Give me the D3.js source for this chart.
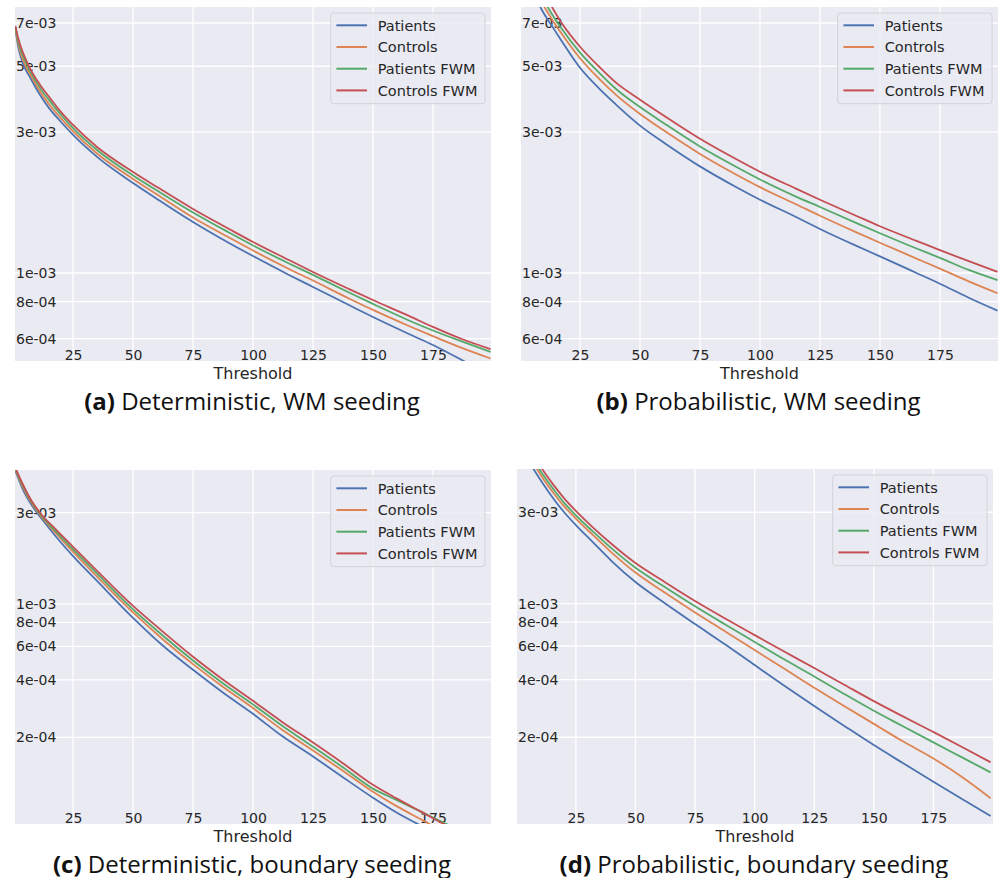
<!DOCTYPE html>
<html>
<head>
<meta charset="utf-8">
<script src="https://cdn.jsdelivr.net/npm/d3@7"></script>
<style>
  html, body { margin: 0; padding: 0; background: #fff; }
  svg { display: block; }
</style>
</head>
<body>
<script>
// series order: Patients, Controls, Patients FWM, Controls FWM
const seriesNames = ["Patients", "Controls", "Patients FWM", "Controls FWM"]
const seriesColors = ["#4C72B0", "#DD8452", "#55A868", "#C44E52"]

const xTicks = [25, 50, 75, 100, 125, 150, 175]
const yTicksWM = [6e-4, 8e-4, 1e-3, 3e-3, 5e-3, 7e-3]
const yTicksBoundary = [2e-4, 4e-4, 6e-4, 8e-4, 1e-3, 3e-3]

// (a) deterministic, WM seeding
const aThreshold = [1, 2, 4, 7, 11, 15, 20, 25, 35, 50, 60, 75, 90, 100, 115, 125, 140, 150, 165, 175, 187, 199]
const aPatients = [6.63e-3, 5.90e-3, 5.13e-3, 4.60e-3, 4.03e-3, 3.61e-3, 3.24e-3, 2.93e-3, 2.47e-3, 2.015e-3, 1.78e-3, 1.487e-3, 1.263e-3, 1.141e-3, 9.85e-4, 8.97e-4, 7.79e-4, 7.10e-4, 6.22e-4, 5.71e-4, 5.08e-4, 4.49e-4]
const aControls = [6.70e-3, 6.03e-3, 5.28e-3, 4.71e-3, 4.14e-3, 3.72e-3, 3.33e-3, 3.01e-3, 2.535e-3, 2.08e-3, 1.843e-3, 1.54e-3, 1.318e-3, 1.191e-3, 1.032e-3, 9.43e-4, 8.20e-4, 7.50e-4, 6.62e-4, 6.12e-4, 5.58e-4, 5.14e-4]
const aPatientsFWM = [6.78e-3, 6.16e-3, 5.45e-3, 4.83e-3, 4.25e-3, 3.84e-3, 3.42e-3, 3.09e-3, 2.605e-3, 2.136e-3, 1.90e-3, 1.602e-3, 1.37e-3, 1.239e-3, 1.077e-3, 9.85e-4, 8.59e-4, 7.86e-4, 6.91e-4, 6.39e-4, 5.87e-4, 5.41e-4]
const aControlsFWM = [6.84e-3, 6.28e-3, 5.59e-3, 4.93e-3, 4.355e-3, 3.94e-3, 3.50e-3, 3.165e-3, 2.667e-3, 2.195e-3, 1.953e-3, 1.646e-3, 1.409e-3, 1.273e-3, 1.106e-3, 1.008e-3, 8.83e-4, 8.10e-4, 7.16e-4, 6.57e-4, 5.98e-4, 5.53e-4]

// (b) probabilistic, WM seeding
const bThreshold = [1, 5, 9, 13, 17, 25, 33, 40, 50, 60, 75, 90, 100, 115, 125, 140, 150, 165, 175, 187, 199]
const bPatients = [1.173e-2, 9.14e-3, 7.78e-3, 6.90e-3, 6.15e-3, 4.94e-3, 4.20e-3, 3.71e-3, 3.15e-3, 2.757e-3, 2.293e-3, 1.953e-3, 1.769e-3, 1.547e-3, 1.409e-3, 1.237e-3, 1.138e-3, 1.002e-3, 9.20e-4, 8.25e-4, 7.46e-4]
const bControls = [1.236e-2, 9.74e-3, 8.26e-3, 7.27e-3, 6.50e-3, 5.32e-3, 4.53e-3, 4.00e-3, 3.447e-3, 3.03e-3, 2.527e-3, 2.154e-3, 1.951e-3, 1.708e-3, 1.561e-3, 1.374e-3, 1.265e-3, 1.121e-3, 1.034e-3, 9.37e-4, 8.54e-4]
const bPatientsFWM = [1.286e-2, 1.022e-2, 8.65e-3, 7.57e-3, 6.76e-3, 5.56e-3, 4.75e-3, 4.19e-3, 3.64e-3, 3.208e-3, 2.677e-3, 2.286e-3, 2.071e-3, 1.813e-3, 1.672e-3, 1.477e-3, 1.363e-3, 1.212e-3, 1.125e-3, 1.024e-3, 9.46e-4]
const bControlsFWM = [1.36e-2, 1.094e-2, 9.22e-3, 8.01e-3, 7.07e-3, 5.82e-3, 4.98e-3, 4.40e-3, 3.854e-3, 3.402e-3, 2.844e-3, 2.429e-3, 2.20e-3, 1.928e-3, 1.769e-3, 1.562e-3, 1.439e-3, 1.286e-3, 1.194e-3, 1.096e-3, 1.008e-3]

// (c) deterministic, boundary seeding
const cThreshold = [1, 4, 8, 12, 18, 25, 35, 50, 62, 75, 87, 100, 112, 125, 137, 150, 160, 170, 180, 190, 199]
const cPatients = [4.96e-3, 3.99e-3, 3.25e-3, 2.78e-3, 2.24e-3, 1.78e-3, 1.32e-3, 8.45e-4, 6.11e-4, 4.52e-4, 3.47e-4, 2.66e-4, 2.04e-4, 1.59e-4, 1.25e-4, 9.68e-5, 8.08e-5, 6.91e-5, 5.91e-5, 5.11e-5, 4.48e-5]
const cControls = [5.04e-3, 4.10e-3, 3.33e-3, 2.84e-3, 2.33e-3, 1.87e-3, 1.39e-3, 9.02e-4, 6.59e-4, 4.84e-4, 3.72e-4, 2.85e-4, 2.20e-4, 1.71e-4, 1.35e-4, 1.04e-4, 8.72e-5, 7.46e-5, 6.37e-5, 5.52e-5, 4.83e-5]
const cPatientsFWM = [5.09e-3, 4.17e-3, 3.37e-3, 2.88e-3, 2.38e-3, 1.93e-3, 1.44e-3, 9.37e-4, 6.90e-4, 5.06e-4, 3.88e-4, 2.98e-4, 2.31e-4, 1.79e-4, 1.41e-4, 1.08e-4, 9.40e-5, 8.18e-5, 7.11e-5, 6.21e-5, 5.44e-5]
const cControlsFWM = [5.14e-3, 4.24e-3, 3.41e-3, 2.92e-3, 2.44e-3, 1.99e-3, 1.49e-3, 9.76e-4, 7.23e-4, 5.29e-4, 4.06e-4, 3.11e-4, 2.42e-4, 1.88e-4, 1.48e-4, 1.13e-4, 9.57e-5, 8.18e-5, 7.00e-5, 6.05e-5, 5.30e-5]

// (d) probabilistic, boundary seeding
const dThreshold = [1, 4, 7, 11, 16, 20, 25, 32, 40, 50, 61, 75, 88, 100, 112, 125, 137, 150, 162, 175, 187, 199]
const dPatients = [7.16e-3, 5.97e-3, 5.11e-3, 4.27e-3, 3.48e-3, 3.01e-3, 2.57e-3, 2.10e-3, 1.668e-3, 1.296e-3, 1.031e-3, 7.81e-4, 6.07e-4, 4.77e-4, 3.75e-4, 2.91e-4, 2.32e-4, 1.82e-4, 1.47e-4, 1.17e-4, 9.51e-5, 7.75e-5]
const dControls = [7.69e-3, 6.42e-3, 5.47e-3, 4.55e-3, 3.73e-3, 3.23e-3, 2.78e-3, 2.29e-3, 1.847e-3, 1.452e-3, 1.169e-3, 8.98e-4, 7.10e-4, 5.71e-4, 4.60e-4, 3.63e-4, 2.94e-4, 2.35e-4, 1.91e-4, 1.55e-4, 1.24e-4, 9.60e-5]
const dPatientsFWM = [8.06e-3, 6.73e-3, 5.71e-3, 4.75e-3, 3.90e-3, 3.37e-3, 2.89e-3, 2.39e-3, 1.941e-3, 1.537e-3, 1.249e-3, 9.67e-4, 7.72e-4, 6.30e-4, 5.14e-4, 4.16e-4, 3.40e-4, 2.75e-4, 2.29e-4, 1.88e-4, 1.57e-4, 1.31e-4]
const dControlsFWM = [8.57e-3, 7.16e-3, 6.05e-3, 5.02e-3, 4.11e-3, 3.56e-3, 3.05e-3, 2.51e-3, 2.047e-3, 1.628e-3, 1.327e-3, 1.031e-3, 8.30e-4, 6.84e-4, 5.65e-4, 4.60e-4, 3.80e-4, 3.09e-4, 2.58e-4, 2.13e-4, 1.78e-4, 1.48e-4]

const captionLabels = ["(a)", "(b)", "(c)", "(d)"]
const captionTexts = [" Deterministic, WM seeding", " Probabilistic, WM seeding", " Deterministic, boundary seeding", " Probabilistic, boundary seeding"]

;(function () {
  'use strict';

  const width = 1006
  const height = 878
  const bg = "#EAEAF2"
  const textColor = "#262626"

  const panels = [
    { left: 15, top: 7, w: 476, h: 354, xDomain: [0.8, 199.2], yDomain: [5.04e-4, 7.93e-3], yTicks: yTicksWM,
      x: aThreshold, series: [aPatients, aControls, aPatientsFWM, aControlsFWM] },
    { left: 521, top: 7, w: 477, h: 354, xDomain: [0.4, 199.2], yDomain: [5.04e-4, 7.93e-3], yTicks: yTicksWM,
      x: bThreshold, series: [bPatients, bControls, bPatientsFWM, bControlsFWM] },
    { left: 15, top: 470, w: 476, h: 354, xDomain: [0.8, 199.2], yDomain: [7.05e-5, 5.02e-3], yTicks: yTicksBoundary,
      x: cThreshold, series: [cPatients, cControls, cPatientsFWM, cControlsFWM] },
    { left: 517, top: 469, w: 476, h: 355, xDomain: [0.3, 200], yDomain: [7.04e-5, 5.05e-3], yTicks: yTicksBoundary,
      x: dThreshold, series: [dPatients, dControls, dPatientsFWM, dControlsFWM] }
  ]

  // 7e-03 style labels
  function expFormat(v) {
    const parts = v.toExponential(0).split("e")
    const n = +parts[1]
    return parts[0] + "e" + (n < 0 ? "-" : "+") + String(Math.abs(n)).padStart(2, "0")
  }

  const svg = d3.select("body").append("svg")
      .attr("width", width)
      .attr("height", height)
      .attr("viewBox", "0 0 " + width + " " + height)

  svg.append("rect")
      .attr("width", width)
      .attr("height", height)
      .attr("fill", "#fff")

  function drawPanel(p, i) {
    const x = d3.scaleLinear().domain(p.xDomain).range([0, p.w])
    const y = d3.scaleLog().domain(p.yDomain).range([p.h, 0])

    const g = svg.append("g")
        .attr("transform", "translate(" + p.left + "," + p.top + ")")

    g.append("clipPath")
        .attr("id", "clip" + i)
      .append("rect")
        .attr("width", p.w)
        .attr("height", p.h)

    g.append("rect")
        .attr("width", p.w)
        .attr("height", p.h)
        .attr("fill", bg)

    // grid
    g.append("g").selectAll("line")
      .data(xTicks)
      .enter().append("line")
        .attr("x1", d => x(d)).attr("x2", d => x(d))
        .attr("y1", 0).attr("y2", p.h)
        .attr("stroke", "#fff")
        .attr("stroke-width", 1.3)
    g.append("g").selectAll("line")
      .data(p.yTicks)
      .enter().append("line")
        .attr("y1", d => y(d)).attr("y2", d => y(d))
        .attr("x1", 0).attr("x2", p.w)
        .attr("stroke", "#fff")
        .attr("stroke-width", 1.3)

    // tick labels sit inside the axes
    const yAxis = g.append("g")
        .call(d3.axisRight(y).tickValues(p.yTicks).tickFormat(expFormat).tickSize(0).tickPadding(1))
    const xAxis = g.append("g")
        .attr("transform", "translate(0," + p.h + ")")
        .call(d3.axisTop(x).tickValues(xTicks).tickSize(0).tickPadding(1.5))
    ;[yAxis, xAxis].forEach(function (ax) {
      ax.select(".domain").remove()
      ax.attr("font-family", "DejaVu Sans").attr("font-size", 14)
      ax.selectAll("text").attr("fill", textColor)
    })

    // curves
    const line = d3.line()
        .curve(d3.curveMonotoneX)
        .x(d => x(d[0]))
        .y(d => y(d[1]))

    g.append("g")
        .attr("clip-path", "url(#clip" + i + ")")
      .selectAll("path")
      .data(p.series)
      .enter().append("path")
        .attr("d", s => line(p.x.map((t, k) => [t, s[k]])))
        .attr("fill", "none")
        .attr("stroke", (s, k) => seriesColors[k])
        .attr("stroke-width", 1.8)
        .attr("stroke-linejoin", "round")

    // legend
    const lw = 154.3, lh = 90.7
    const legend = g.append("g")
        .attr("transform", "translate(" + (p.w - 6 - lw) + ",6)")
    legend.append("rect")
        .attr("width", lw)
        .attr("height", lh)
        .attr("rx", 3)
        .attr("fill", bg)
        .attr("fill-opacity", 0.8)
        .attr("stroke", "#d2d2d8")
        .attr("stroke-width", 1)
    const item = legend.selectAll(".item")
      .data(seriesNames)
      .enter().append("g")
        .attr("class", "item")
        .attr("transform", (d, k) => "translate(0," + (12.3 + k * 21.7) + ")")
    item.append("line")
        .attr("x1", 5.7).attr("x2", 36.3)
        .attr("stroke", (d, k) => seriesColors[k])
        .attr("stroke-width", 2)
    item.append("text")
        .attr("x", 47)
        .attr("dy", "0.36em")
        .attr("font-family", "DejaVu Sans")
        .attr("font-size", 14.5)
        .attr("fill", textColor)
        .text(d => d)

    // axis title
    g.append("text")
        .attr("x", p.w / 2)
        .attr("y", p.h + 18)
        .attr("text-anchor", "middle")
        .attr("font-family", "DejaVu Sans")
        .attr("font-size", 16)
        .attr("fill", textColor)
        .text("Threshold")

    // caption
    const cap = g.append("text")
        .attr("x", p.w / 2 - 1)
        .attr("y", p.h + 48.5)
        .attr("text-anchor", "middle")
        .attr("font-family", "Open Sans")
        .attr("font-size", 24)
        .attr("fill", "#111")
    cap.append("tspan").attr("font-weight", "bold").text(captionLabels[i])
    cap.append("tspan").text(captionTexts[i])
  }

  panels.forEach(drawPanel)
}())
</script>
</body>
</html>
